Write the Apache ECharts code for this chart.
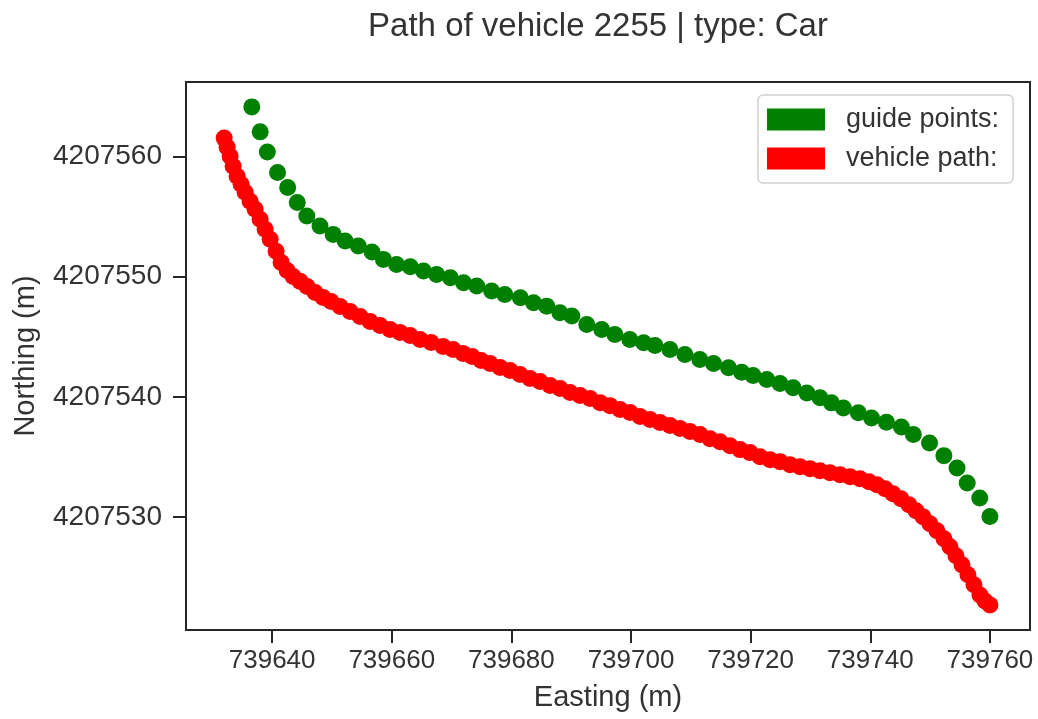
<!DOCTYPE html>
<html>
<head>
<meta charset="utf-8">
<script src="https://cdn.jsdelivr.net/npm/echarts@6/dist/echarts.min.js"></script>
<style>
  html, body { margin: 0; padding: 0; background: #ffffff; }
  #chart { width: 1038px; height: 719px; }
</style>
</head>
<body>
<div id="chart"></div>
<script>
// ---- data ----
const titleText = 'Path of vehicle 2255 | type: Car';
const xAxisName = 'Easting (m)';
const yAxisName = 'Northing (m)';
const seriesNames = ['guide points:', 'vehicle path:'];

const xTickValues = [739640, 739660, 739680, 739700, 739720, 739740, 739760];
const yTickValues = [4207530, 4207540, 4207550, 4207560];
const xRange = [739625.6, 739766.7];
const yRange = [4207520.6, 4207566.2];

const guideX = [739636.6, 739638.0, 739639.2, 739640.9, 739642.6, 739644.2, 739645.8, 739648.0, 739650.2, 739652.2,
  739654.4, 739656.7, 739658.6, 739660.8, 739663.1, 739665.3, 739667.5, 739669.8, 739672.0, 739674.2,
  739676.7, 739678.9, 739681.5, 739683.7, 739685.9, 739688.1, 739690.1, 739692.6, 739695.1, 739697.3,
  739699.8, 739702.1, 739704.0, 739706.5, 739709.0, 739711.5, 739713.8, 739716.3, 739718.5, 739720.4,
  739722.7, 739724.9, 739727.1, 739729.4, 739731.6, 739733.5, 739735.5, 739738.0, 739740.2, 739742.7,
  739745.2, 739747.2, 739749.9, 739752.3, 739754.5, 739756.2, 739758.3, 739760.0];
const guideY = [4207564.13, 4207562.05, 4207560.38, 4207558.67, 4207557.42, 4207556.17, 4207555.05, 4207554.22, 4207553.52, 4207552.97,
  4207552.55, 4207552.05, 4207551.44, 4207551.02, 4207550.83, 4207550.47, 4207550.19, 4207549.92, 4207549.50, 4207549.22,
  4207548.80, 4207548.52, 4207548.25, 4207547.83, 4207547.55, 4207547.00, 4207546.72, 4207546.02, 4207545.61, 4207545.19,
  4207544.77, 4207544.50, 4207544.27, 4207543.94, 4207543.52, 4207543.11, 4207542.77, 4207542.42, 4207542.05, 4207541.77,
  4207541.44, 4207541.11, 4207540.75, 4207540.33, 4207539.92, 4207539.50, 4207539.08, 4207538.67, 4207538.25, 4207537.88,
  4207537.50, 4207536.86, 4207536.17, 4207535.11, 4207534.08, 4207532.83, 4207531.58, 4207530.05];

const pathX = [739631.98, 739632.48, 739632.98, 739633.48, 739634.15, 739634.82, 739635.49, 739636.32, 739637.16, 739637.99,
  739638.83, 739639.67, 739640.67, 739641.50, 739642.51, 739643.51, 739644.68, 739645.85, 739647.19, 739648.52,
  739649.86, 739651.37, 739653.04, 739654.71, 739656.38, 739658.05, 739659.72, 739661.39, 739663.07, 739664.74,
  739666.58, 739668.58, 739670.25, 739671.92, 739673.43, 739674.93, 739676.44, 739678.11, 739679.78, 739681.45,
  739683.12, 739684.79, 739686.47, 739688.14, 739689.81, 739691.48, 739693.15, 739694.82, 739696.49, 739698.16,
  739699.84, 739701.51, 739703.18, 739704.85, 739706.52, 739708.19, 739709.86, 739711.54, 739713.21, 739714.88,
  739716.55, 739718.22, 739719.89, 739721.56, 739723.24, 739724.91, 739726.58, 739728.25, 739729.92, 739731.59,
  739733.26, 739734.94, 739736.61, 739738.28, 739739.78, 739741.12, 739742.46, 739743.79, 739745.13, 739746.47,
  739747.64, 739748.81, 739749.98, 739751.15, 739752.32, 739753.32, 739754.32, 739755.33, 739756.33, 739757.33,
  739758.33, 739759.17, 739760.00];
const pathY = [4207561.53, 4207560.78, 4207560.03, 4207559.19, 4207558.36, 4207557.69, 4207557.02, 4207556.27, 4207555.61, 4207554.77,
  4207553.94, 4207553.11, 4207552.11, 4207551.19, 4207550.52, 4207550.02, 4207549.61, 4207549.19, 4207548.69, 4207548.27,
  4207547.94, 4207547.52, 4207547.11, 4207546.69, 4207546.27, 4207545.94, 4207545.61, 4207545.36, 4207545.11, 4207544.77,
  4207544.52, 4207544.19, 4207543.94, 4207543.61, 4207543.36, 4207543.02, 4207542.77, 4207542.44, 4207542.19, 4207541.86,
  4207541.52, 4207541.27, 4207540.94, 4207540.69, 4207540.36, 4207540.11, 4207539.86, 4207539.52, 4207539.27, 4207538.94,
  4207538.69, 4207538.36, 4207538.11, 4207537.86, 4207537.61, 4207537.36, 4207537.11, 4207536.86, 4207536.52, 4207536.27,
  4207535.94, 4207535.61, 4207535.36, 4207535.02, 4207534.77, 4207534.61, 4207534.36, 4207534.19, 4207534.02, 4207533.86,
  4207533.69, 4207533.52, 4207533.36, 4207533.19, 4207532.94, 4207532.69, 4207532.36, 4207531.94, 4207531.52, 4207531.02,
  4207530.52, 4207530.02, 4207529.44, 4207528.86, 4207528.19, 4207527.52, 4207526.77, 4207526.02, 4207525.19, 4207524.36,
  4207523.52, 4207523.02, 4207522.69];

// ---- chart ----
const zip = (xs, ys) => xs.map((x, i) => [x, ys[i]]);
const FONT = '"Liberation Sans", Arial, Helvetica, sans-serif';
const INK = '#262626';
const TEXT = '#333333';

const chart = echarts.init(document.getElementById('chart'), null, { renderer: 'canvas' });
chart.setOption({
  animation: false,
  backgroundColor: '#ffffff',
  textStyle: { fontFamily: FONT },
  title: {
    text: titleText,
    left: 593, top: 5,
    textAlign: 'center',
    textStyle: { fontFamily: FONT, fontSize: 33, fontWeight: 'normal', color: TEXT }
  },
  legend: {
    left: 758, top: 95,
    orient: 'vertical',
    icon: 'rect',
    itemWidth: 58, itemHeight: 22, itemGap: 12,
    padding: [11, 14, 11, 9],
    borderColor: '#d0d0d0', borderWidth: 1.5, borderRadius: 5,
    backgroundColor: '#ffffff',
    textStyle: { fontFamily: FONT, fontSize: 27, color: TEXT, padding: [0, 0, 0, 16] },
    data: seriesNames
  },
  grid: {
    left: 186, right: 8, top: 82, bottom: 89,
    show: true, borderColor: INK, borderWidth: 2,
    containLabel: false, outerBoundsMode: 'none'
  },
  xAxis: {
    type: 'value',
    min: xRange[0], max: xRange[1],
    name: xAxisName, nameLocation: 'middle', nameGap: 53,
    nameTextStyle: { fontFamily: FONT, fontSize: 29, color: TEXT },
    splitLine: { show: false },
    axisLine: { show: true, lineStyle: { color: INK, width: 2 } },
    axisTick: { show: true, length: 13, inside: false, customValues: xTickValues, lineStyle: { color: INK, width: 2 } },
    axisLabel: { customValues: xTickValues, margin: 18, fontFamily: FONT, fontSize: 26, color: TEXT, formatter: v => String(v) }
  },
  yAxis: {
    type: 'value',
    min: yRange[0], max: yRange[1],
    name: yAxisName, nameLocation: 'middle', nameGap: 146, nameRotate: 90,
    nameTextStyle: { fontFamily: FONT, fontSize: 29, color: TEXT },
    splitLine: { show: false },
    axisLine: { show: true, lineStyle: { color: INK, width: 2 } },
    axisTick: { show: true, length: 13, inside: false, customValues: yTickValues, lineStyle: { color: INK, width: 2 } },
    axisLabel: { customValues: yTickValues, margin: 24, fontFamily: FONT, fontSize: 28, color: TEXT, formatter: v => String(v) }
  },
  series: [
    {
      name: seriesNames[0], type: 'scatter', symbol: 'circle', symbolSize: 17,
      itemStyle: { color: '#008000', opacity: 1 },
      emphasis: { disabled: true },
      data: zip(guideX, guideY)
    },
    {
      name: seriesNames[1], type: 'scatter', symbol: 'circle', symbolSize: 17,
      itemStyle: { color: '#ff0000', opacity: 1 },
      emphasis: { disabled: true },
      data: zip(pathX, pathY)
    }
  ]
});
</script>
</body>
</html>
